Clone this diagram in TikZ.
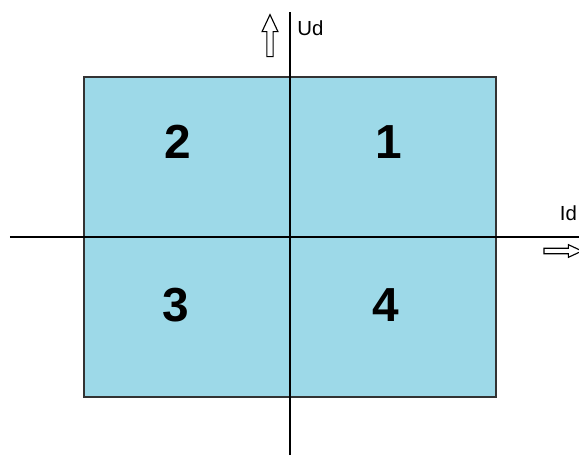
\documentclass[tikz,border=0pt]{standalone}
\usepackage{fontspec}
\setmainfont{Liberation Sans}
\usetikzlibrary{shapes.arrows}
\definecolor{quadfill}{HTML}{9DD9E8}
\definecolor{quadline}{HTML}{333333}

\begin{document}
\begin{tikzpicture}[
    axis/.style={line width=1.4pt,black},
    quadnum/.style={font=\fontsize{34}{40}\selectfont\bfseries},
    axislabel/.style={font=\fontsize{14.5}{17}\selectfont,inner sep=0pt},
    hollowarrow/.style={single arrow,draw,black,line width=0.8pt,fill=white,
      inner xsep=0pt,single arrow tip angle=50}]
  \useasboundingbox (-7.25,-5.45) rectangle (7.225,5.925);
  % quadrant field
  \draw[quadline,fill=quadfill,line width=1pt] (-5.15,-4) rectangle (5.15,4);
  % axes
  \coordinate (xl) at (-7,0);
  \coordinate (xr) at (7.225,0);
  \coordinate (yb) at (0,-5.45);
  \coordinate (yt) at (0,5.625);
  \draw[axis] (xl) -- (xr);
  \draw[axis] (yb) -- (yt);
  % quadrant numbers
  \node[quadnum] (q1) at (2.48,2.375) {1};
  \node[quadnum] (q2) at (-2.8,2.375) {2};
  \node[quadnum] (q3) at (-2.85,-1.7) {3};
  \node[quadnum] (q4) at (2.4,-1.7) {4};
  % axis names and directions
  \node[axislabel,anchor=west] (ud) at (0.175,5.21) {Ud};
  \node[axislabel] (id) at (6.96,0.59) {Id};
  \node[hollowarrow,rotate=90,minimum height=1.05cm,inner ysep=0.065cm,
    single arrow head extend=0.12cm] (uarrow) at (-0.5,4.95) {};
  \node[hollowarrow,minimum height=0.95cm,inner ysep=0.055cm,
    single arrow head extend=0.09cm] (iarrow) at (6.75,-0.35) {};
\end{tikzpicture}
\end{document}
